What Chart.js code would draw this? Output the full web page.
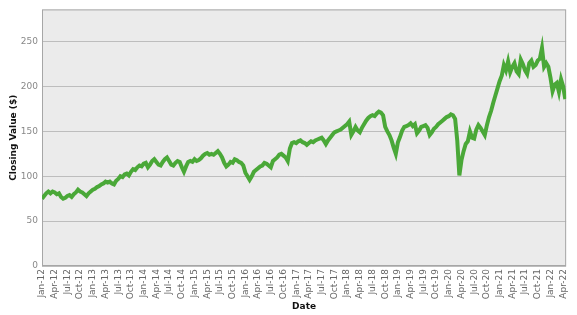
<!DOCTYPE html>
<html>
<head>
<meta charset="utf-8">
<script src="https://cdn.jsdelivr.net/npm/chart.js@4"></script>
<style>
  body { margin: 0; background: #fff; }
</style>
</head>
<body>
<canvas id="closeChart" width="577" height="315"></canvas>
<script>
// Closing value, one reading every half month from Jan 2012
const closing = [
  75, 78, 81, 83, 81, 83, 82, 80, 81, 77, 75, 76, 78, 79, 77, 80, 82, 85, 83, 82, 80, 78, 81, 83,
  85, 86, 88, 89, 91, 92, 94, 93, 94, 92, 91, 95, 97, 100, 99, 102, 103, 101, 105, 108, 107, 110, 112, 111,
  114, 115, 110, 113, 117, 119, 116, 113, 112, 116, 119, 121, 117, 113, 112, 115, 117, 116, 110, 105, 111, 116, 117, 116,
  119, 117, 118, 120, 123, 125, 126, 124, 125, 124, 126, 128, 125, 121, 115, 111, 113, 116, 115, 119, 118, 116, 115, 112,
  104, 100, 96, 100, 105, 107, 109, 111, 112, 115, 114, 112, 110, 117, 119, 121, 124, 125, 123, 121, 117, 131, 137, 138,
  137, 139, 140, 138, 137, 135, 137, 139, 138, 140, 141, 142, 143, 140, 136, 140, 143, 146, 149, 150, 151, 152, 154, 156,
  158, 161, 146, 150, 155, 151, 149, 154, 158, 162, 165, 167, 168, 167, 170, 172, 171, 168, 155, 150, 146, 140, 132, 125,
  138, 144, 151, 155, 156, 157, 159, 156, 158, 148, 151, 155, 156, 157, 154, 146, 149, 153, 155, 158, 160, 162, 164, 166,
  167, 169, 168, 164, 140, 101, 118, 128, 136, 139, 150, 143, 142, 152, 157, 154, 150, 146, 157, 166, 173, 182, 190, 198,
  206, 212, 224, 218, 228, 216, 222, 226, 217, 214, 230, 225, 218, 214, 226, 229, 222, 224, 229, 231, 243, 222, 226, 222,
  210, 195, 202, 204, 194, 208, 200, 186
];

// quarterly date labels on the x axis
const dateTicks = [
  'Jan-12', 'Apr-12', 'Jul-12', 'Oct-12', 'Jan-13', 'Apr-13', 'Jul-13', 'Oct-13',
  'Jan-14', 'Apr-14', 'Jul-14', 'Oct-14', 'Jan-15', 'Apr-15', 'Jul-15', 'Oct-15',
  'Jan-16', 'Apr-16', 'Jul-16', 'Oct-16', 'Jan-17', 'Apr-17', 'Jul-17', 'Oct-17',
  'Jan-18', 'Apr-18', 'Jul-18', 'Oct-18', 'Jan-19', 'Apr-19', 'Jul-19', 'Oct-19',
  'Jan-20', 'Apr-20', 'Jul-20', 'Oct-20', 'Jan-21', 'Apr-21', 'Jul-21', 'Oct-21',
  'Jan-22', 'Apr-22'
];

const valueTicks = [0, 50, 100, 150, 200, 250];

// x is months since Jan 2012
const points = closing.map((v, i) => ({ x: i / 2, y: v }));

const plotFrame = {
  id: 'plotFrame',
  beforeDraw(chart) {
    const { ctx, chartArea: a } = chart;
    ctx.save();
    ctx.fillStyle = '#ebebeb';
    ctx.fillRect(a.left, a.top, a.right - a.left, a.bottom - a.top);
    ctx.restore();
  },
  beforeDatasetsDraw(chart) {
    const { ctx, chartArea: a } = chart;
    ctx.save();
    ctx.strokeStyle = '#a6a6a6';
    ctx.lineWidth = 1;
    ctx.strokeRect(a.left + 0.5, a.top + 0.5, a.right - a.left - 1, a.bottom - a.top - 1);
    ctx.restore();
  }
};

const ctx = document.getElementById('closeChart').getContext('2d');

new Chart(ctx, {
  type: 'line',
  data: {
    datasets: [{
      data: points,
      borderColor: '#4aa838',
      borderWidth: 4,
      pointRadius: 0,
      tension: 0
    }]
  },
  plugins: [plotFrame],
  options: {
    responsive: false,
    animation: false,
    layout: { padding: { top: 3, right: 5, left: 0, bottom: 0 } },
    plugins: { legend: { display: false }, tooltip: { enabled: false } },
    scales: {
      x: {
        type: 'linear',
        min: 0,
        max: 123.7,
        grid: { display: false, drawTicks: false },
        border: { display: false },
        afterBuildTicks: s => { s.ticks = dateTicks.map((_, i) => ({ value: i * 3 })); },
        afterFit: s => { s.height = 49; },
        ticks: {
          autoSkip: false,
          minRotation: 90,
          maxRotation: 90,
          padding: 3,
          color: '#666',
          font: { family: 'DejaVu Sans', size: 9 },
          callback: v => dateTicks[Math.round(v / 3)]
        },
        title: {
          display: true,
          text: 'Date',
          color: '#111',
          font: { family: 'DejaVu Sans', size: 9, weight: 'bold' },
          padding: { top: 0, bottom: 3 }
        }
      },
      y: {
        min: 0,
        max: 286,
        grid: { color: '#bdbdbd', drawTicks: false },
        border: { display: false },
        afterBuildTicks: s => { s.ticks = valueTicks.map(v => ({ value: v })); },
        afterFit: s => { s.width = 42; },
        ticks: {
          padding: 4,
          color: '#888',
          font: { family: 'DejaVu Sans', size: 9 }
        },
        title: {
          display: true,
          text: 'Closing Value ($)',
          color: '#111',
          font: { family: 'DejaVu Sans', size: 9, weight: 'bold' },
          padding: { top: 8, bottom: 0 }
        }
      }
    }
  }
});
</script>
</body>
</html>
